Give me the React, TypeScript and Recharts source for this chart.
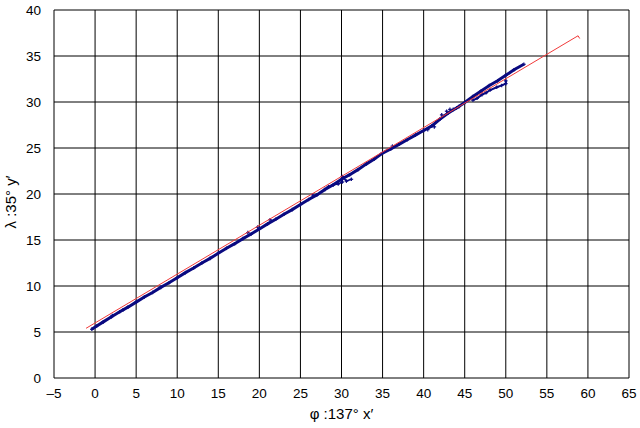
import { CartesianGrid, Label, Scatter, ScatterChart, XAxis, YAxis } from "recharts";

const xTicks = [-5, 0, 5, 10, 15, 20, 25, 30, 35, 40, 45, 50, 55, 60, 65];
const yTicks = [0, 5, 10, 15, 20, 25, 30, 35, 40];

// main measured band (blue crosses)
const blueMain = [
  [-0.4, 5.3], [0.2, 5.65], [1, 6.1], [2, 6.65], [3, 7.2], [4, 7.7], [5, 8.25],
  [6, 8.8], [7, 9.3], [8, 9.85], [9, 10.35], [10, 10.9], [11, 11.45], [12, 11.95],
  [13, 12.5], [14, 13.0], [15, 13.55], [16, 14.1], [17, 14.6], [18, 15.15],
  [19, 15.65], [20, 16.2], [21, 16.75], [22, 17.25], [23, 17.8], [24, 18.3],
  [25, 18.85], [26, 19.4], [27, 19.9], [28, 20.5], [29, 21.0], [30, 21.6],
  [31, 22.1], [32, 22.65], [33, 23.25], [34, 23.8], [35, 24.45], [36, 24.9],
  [37, 25.4], [38, 25.9], [39, 26.4], [40, 26.9], [41, 27.4], [42, 28.15],
  [43, 28.8], [44, 29.35], [45, 29.95], [46, 30.6], [47, 31.2], [48, 31.8],
  [49, 32.3], [50, 32.9], [51, 33.5], [52.2, 34.1],
].map(([x, y]) => ({ x, y }));

// lower hook near x = 30
const blueBranchA = [
  [28.4, 20.8], [29.0, 21.0], [29.6, 21.1], [30.1, 21.3], [30.1, 21.9],
  [30.6, 21.4], [31.2, 21.6],
].map(([x, y]) => ({ x, y }));

// lower branch near x = 48
const blueBranchB = [
  [46.0, 30.2], [46.5, 30.4], [47.1, 30.8], [47.6, 31.0], [48.1, 31.3],
  [48.9, 31.6], [49.5, 31.8], [50.0, 32.0], [50.0, 32.3],
].map(([x, y]) => ({ x, y }));

// scattered crosses off the band
const blueStray = [
  [2.1, 6.8], [3.4, 7.4], [18.6, 15.8], [19.8, 16.4], [21.3, 17.2],
  [26.5, 19.9], [36.2, 25.2], [40.5, 27.0], [41.3, 27.3], [42.2, 28.6],
  [42.8, 29.0], [43.2, 29.2], [43.6, 29.2], [44.3, 29.5],
].map(([x, y]) => ({ x, y }));

// red fitted line
const redFit = [
  [-1.1, 5.4], [58.8, 37.2], [59.0, 36.9],
].map(([x, y]) => ({ x, y }));

const font = '"Liberation Sans", Arial, sans-serif';

const Cross = (props: any) => {
  const { cx, cy } = props;
  if (cx == null || cy == null) return null;
  return (
    <g stroke="#0a0a80" strokeWidth={1.2}>
      <line x1={cx - 1.8} y1={cy} x2={cx + 1.8} y2={cy} />
      <line x1={cx} y1={cy - 1.8} x2={cx} y2={cy + 1.8} />
    </g>
  );
};

const NoDot = () => <g />;

export default function App() {
  return (
    <div style={{ position: "absolute", left: 0, top: 0, background: "#fff" }}>
      <ScatterChart
        width={640}
        height={428}
        margin={{ top: 10, right: 11, left: 0, bottom: 0 }}
      >
        <CartesianGrid stroke="#000" strokeWidth={1} strokeOpacity={1} />
        <XAxis
          type="number"
          dataKey="x"
          domain={[-5, 65]}
          ticks={xTicks}
          allowDataOverflow
          height={50}
          axisLine={false}
          tickLine={false}
          tickSize={6}
          tickMargin={4}
          tick={{ fill: "#000", fontSize: 13.5, fontFamily: font }}
          tickFormatter={(v: number) => (v < 0 ? `\u2013${Math.abs(v)}` : `${v}`)}
        >
          <Label
            content={({ viewBox }: any) => (
              <text
                x={viewBox.x + viewBox.width / 2}
                y={419}
                textAnchor="middle"
                fill="#000"
                fontSize={15}
                fontFamily={font}
              >
                φ :137°  x′
              </text>
            )}
          />
        </XAxis>
        <YAxis
          type="number"
          dataKey="y"
          domain={[0, 40]}
          ticks={yTicks}
          allowDataOverflow
          width={54}
          axisLine={false}
          tickLine={false}
          tickSize={6}
          tickMargin={7}
          tick={{ fill: "#000", fontSize: 13.5, fontFamily: font }}
        >
          <Label
            content={() => (
              <text
                x={0}
                y={0}
                transform="translate(16 202) rotate(-90)"
                textAnchor="middle"
                fill="#000"
                fontSize={15}
                fontFamily={font}
              >
                λ :35°  y′
              </text>
            )}
          />
        </YAxis>
        <Scatter
          data={blueMain}
          shape={Cross}
          line={{ stroke: "#0a0a80", strokeWidth: 3 }}
          isAnimationActive={false}
        />
        <Scatter
          data={blueBranchA}
          shape={Cross}
          line={{ stroke: "#0a0a80", strokeWidth: 1.6 }}
          isAnimationActive={false}
        />
        <Scatter
          data={blueBranchB}
          shape={Cross}
          line={{ stroke: "#0a0a80", strokeWidth: 2 }}
          isAnimationActive={false}
        />
        <Scatter data={blueStray} shape={Cross} isAnimationActive={false} />
        <Scatter
          data={redFit}
          shape={NoDot}
          line={{ stroke: "#f03a3a", strokeWidth: 1 }}
          isAnimationActive={false}
        />
      </ScatterChart>
    </div>
  );
}
